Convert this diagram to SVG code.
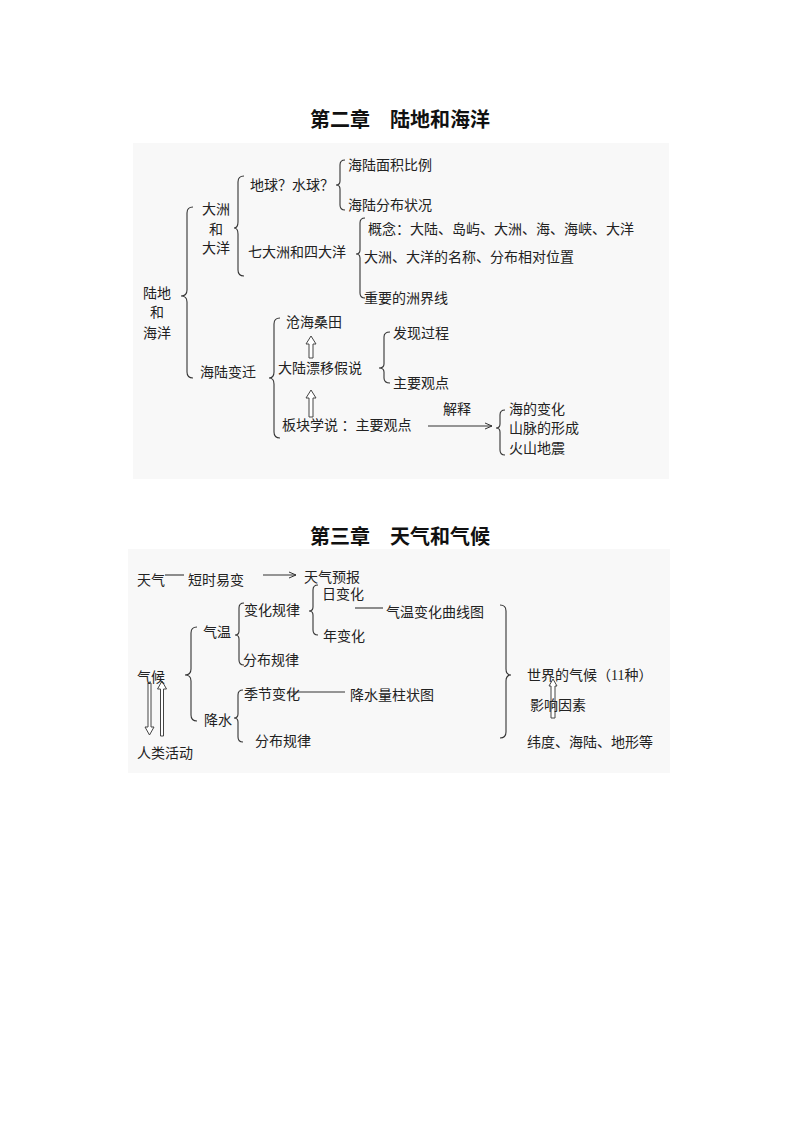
<svg xmlns="http://www.w3.org/2000/svg" width="794" height="1122" viewBox="0 0 794 1122">
<defs>
<style>
text{font-family:"Liberation Serif","Noto Sans CJK SC",serif;font-size:14px;fill:#222}
.t{font-size:20px;font-weight:bold;fill:#111}
.b{fill:none;stroke:#333;stroke-width:1.1}
.l{stroke:#333;stroke-width:1.1;fill:none}
.h{fill:#fff;stroke:#444;stroke-width:1}
</style>
<marker id="a" markerWidth="8" markerHeight="8" refX="7" refY="4" orient="auto" markerUnits="userSpaceOnUse"><path d="M0,1 L7,4 L0,7" fill="none" stroke="#333"/></marker>
</defs>
<rect width="794" height="1122" fill="#fff"/>
<rect x="133" y="143" width="536" height="336" fill="#f8f8f8"/>
<rect x="128" y="549" width="542" height="224" fill="#f8f8f8"/>
<text class="t" x="400" y="127" text-anchor="middle">第二章　陆地和海洋</text>
<text class="t" x="400" y="544" text-anchor="middle">第三章　天气和气候</text>

<g id="connectors">
<path class="b" d="M193 207 Q187 207 187 213 L187 290 Q187 296 181 296 Q187 296 187 302 L187 372 Q187 378 193 378"/>
<path class="b" d="M244 176 Q238 176 238 182 L238 222 Q238 228 234 228 Q238 228 238 234 L238 270 Q238 276 244 276"/>
<path class="b" d="M345 160 Q340 160 340 165 L340 181 Q340 185 336 185 Q340 185 340 189 L340 205 Q340 210 345 210"/>
<path class="b" d="M365 218 Q360 218 360 223 L360 250 Q360 254 356 254 Q360 254 360 258 L360 293 Q360 298 365 298"/>
<path class="b" d="M280 318 Q274 318 274 324 L274 372 Q274 378 269 378 Q274 378 274 384 L274 432 Q274 438 280 438"/>
<path class="b" d="M390 332 Q384 332 384 337 L384 364 Q384 368 379 368 Q384 368 384 372 L384 378 Q384 383 390 383"/>
<path class="b" d="M505 410 Q500 410 500 415 L500 424 Q500 428 496 428 Q500 428 500 432 L500 450 Q500 455 505 455"/>
<path class="h" d="M311 336 L316 344 L313 344 L313 358 L309 358 L309 344 L306 344 Z"/>
<path class="h" d="M311 390 L316 398 L313 398 L313 417 L309 417 L309 398 L306 398 Z"/>
<line class="l" x1="428" y1="426" x2="492" y2="426" marker-end="url(#a)"/>

<line class="l" x1="165" y1="575" x2="184" y2="575"/>
<line class="l" x1="263" y1="575" x2="296" y2="575" marker-end="url(#a)"/>
<path class="b" d="M318 585 Q313 585 313 590 L313 607 Q313 611 309 611 Q313 611 313 615 L313 630 Q313 635 318 635"/>
<line class="l" x1="355" y1="608" x2="383" y2="608"/>
<path class="b" d="M244 603 Q239 603 239 608 L239 631 Q239 635 235 635 Q239 635 239 639 L239 660 Q239 665 244 665"/>
<path class="b" d="M197 627 Q191 627 191 633 L191 669 Q191 675 185 675 Q191 675 191 681 L191 715 Q191 721 197 721"/>
<line class="l" x1="287" y1="692" x2="345" y2="692"/>
<path class="b" d="M243 690 Q238 690 238 695 L238 714 Q238 718 234 718 Q238 718 238 722 L238 737 Q238 742 243 742"/>
<path class="h" d="M148 683 L151 683 L151 727 L154 727 L149.5 735 L145 727 L148 727 Z"/>
<path class="h" d="M162 681 L166.5 689 L163.5 689 L163.5 736 L160.5 736 L160.5 689 L157.5 689 Z"/>
<path class="b" d="M500 605 Q506 605 506 611 L506 669 Q506 675 511 675 Q506 675 506 681 L506 732 Q506 738 500 738"/>
<path class="h" d="M553 679 L557 686 L555 686 L555 718 L551 718 L551 686 L549 686 Z"/>
</g>

<g id="n1"><text x="143" y="298">陆地</text><text x="150" y="317">和</text><text x="143" y="338">海洋</text></g>
<g id="n2"><text x="202" y="214">大洲</text><text x="209" y="234">和</text><text x="202" y="253">大洋</text></g>
<g id="n3"><text x="200" y="377">海陆变迁</text></g>
<g id="n4"><text x="250" y="190">地球？水球？</text></g>
<g id="n5"><text x="348" y="170">海陆面积比例</text></g>
<g id="n6"><text x="348" y="210">海陆分布状况</text></g>
<g id="n7"><text x="248" y="257">七大洲和四大洋</text></g>
<g id="n8"><text x="368" y="234">概念：大陆、岛屿、大洲、海、海峡、大洋</text></g>
<g id="n9"><text x="364" y="262">大洲、大洋的名称、分布相对位置</text></g>
<g id="n10"><text x="364" y="303">重要的洲界线</text></g>
<g id="n11"><text x="286" y="327">沧海桑田</text></g>
<g id="n12"><text x="278" y="373">大陆漂移假说</text></g>
<g id="n13"><text x="282" y="430">板块学说 ：主要观点</text></g>
<g id="n14"><text x="393" y="338">发现过程</text></g>
<g id="n15"><text x="393" y="388">主要观点</text></g>
<g id="n16"><text x="443" y="414">解释</text></g>
<g id="n17"><text x="509" y="414">海的变化</text><text x="509" y="433">山脉的形成</text><text x="509" y="453">火山地震</text></g>

<g id="m1"><text x="137" y="585">天气</text></g>
<g id="m2"><text x="188" y="585">短时易变</text></g>
<g id="m3"><text x="304" y="582">天气预报</text></g>
<g id="m4"><text x="322" y="599">日变化</text></g>
<g id="m5"><text x="244" y="615">变化规律</text></g>
<g id="m6"><text x="386" y="617">气温变化曲线图</text></g>
<g id="m7"><text x="323" y="641">年变化</text></g>
<g id="m8"><text x="203" y="637">气温</text></g>
<g id="m9"><text x="243" y="665">分布规律</text></g>
<g id="m10"><text x="137" y="682">气候</text></g>
<g id="m11"><text x="244" y="699">季节变化</text></g>
<g id="m12"><text x="350" y="700">降水量柱状图</text></g>
<g id="m13"><text x="204" y="725">降水</text></g>
<g id="m14"><text x="255" y="746">分布规律</text></g>
<g id="m15"><text x="137" y="758">人类活动</text></g>
<g id="m16"><text x="527" y="680">世界的气候（11种）</text></g>
<g id="m17"><text x="530" y="710">影响因素</text></g>
<g id="m18"><text x="527" y="747">纬度、海陆、地形等</text></g>
</svg>
